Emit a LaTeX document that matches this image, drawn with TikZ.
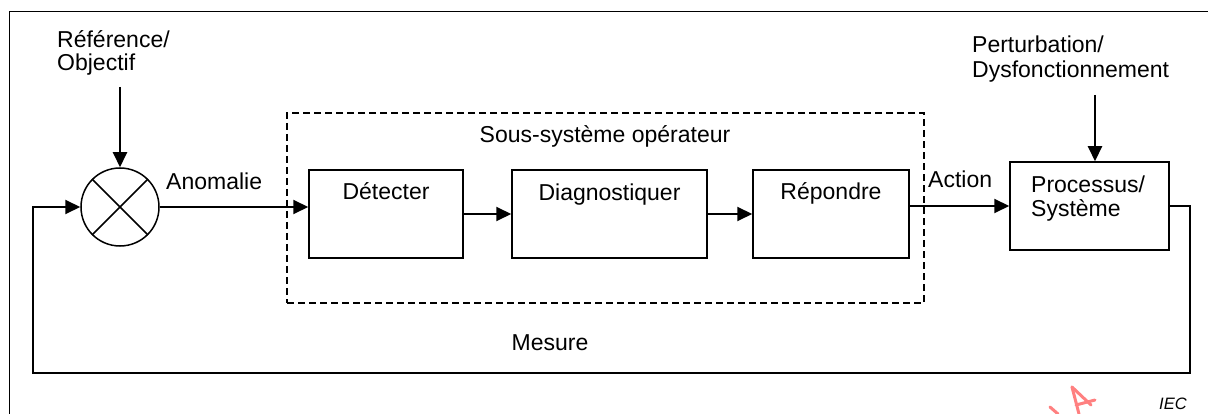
\documentclass[tikz,border=0pt]{standalone}
\usepackage{fontspec}
\setmainfont{Liberation Sans}
\usetikzlibrary{arrows.meta}

\tikzset{
  lbl/.style={font=\fontsize{23}{24}\selectfont, inner sep=0pt},
  blockbox/.style={draw, line width=1.5pt, minimum height=88pt, inner sep=0pt},
  link/.style={line width=2pt, -{Triangle[length=15pt,width=14pt]}},
  frameline/.style={line width=1.6pt},
  groupbox/.style={draw, line width=1.5pt, dash pattern=on 7pt off 4pt, inner sep=0pt},
  stamp/.style={draw={rgb,255:red,255;green,128;blue,128}, line width=3pt, line cap=round, line join=round}
}

\begin{document}
\begin{tikzpicture}[x=1pt, y=-1pt]
  \useasboundingbox (0,0) rectangle (1208,414);

  % outer frame
  \draw[frameline] (9.5,414) -- (9.5,11.5) -- (1208,11.5);

  % operator subsystem group
  \node[groupbox, minimum width=637pt, minimum height=190pt] (ops) at (605.5,208) {};
  \node[lbl, anchor=base] (opslbl) at (605,143) {Sous-système opérateur};

  % summing junction
  \node[draw, circle, line width=1.5pt, minimum size=78pt, inner sep=0pt] (sum) at (120,207) {};
  \draw[line width=1.5pt] (sum.north west) -- (sum.south east);
  \draw[line width=1.5pt] (sum.north east) -- (sum.south west);

  % blocks
  \node[blockbox, minimum width=154pt] (det) at (386,214) {};
  \node[blockbox, minimum width=195pt] (diag) at (609.5,214) {};
  \node[blockbox, minimum width=156pt] (rep) at (831,214) {};
  \node[blockbox, minimum width=159pt] (proc) at (1089.5,206) {};

  \node[lbl, anchor=base] (detlbl) at (386,200) {Détecter};
  \node[lbl, anchor=base] (diaglbl) at (609.5,201) {Diagnostiquer};
  \node[lbl, anchor=base] (replbl) at (831,200) {Répondre};
  \node[lbl, anchor=base west] (proclbla) at (1031,193) {Processus/};
  \node[lbl, anchor=base west] (proclblb) at (1031,217) {Système};

  % external inputs
  \node[lbl, anchor=base west] (refa) at (57,48) {Référence/};
  \node[lbl, anchor=base west] (refb) at (57,71) {Objectif};
  \node[lbl, anchor=base west] (perta) at (972,53) {Perturbation/};
  \node[lbl, anchor=base west] (pertb) at (972,78) {Dysfonctionnement};

  \coordinate (refin) at (120,87);
  \coordinate (pertin) at (1095,95);
  \draw[link] (refin) -- (sum.north);
  \draw[link] (pertin) -- (pertin |- proc.north);

  % signal path
  \node[lbl, anchor=base west] (anom) at (166,190) {Anomalie};
  \draw[link] (sum.east) -- (sum.east -| det.west);
  \draw[link] (det.east) -- (diag.west);
  \draw[link] (diag.east) -- (rep.west);
  \node[lbl, anchor=base west] (act) at (928,188) {Action};
  \draw[link] (rep.east |- proc.west) -- (proc.west);

  % feedback loop
  \coordinate (fbR) at (1190,373);
  \coordinate (fbL) at (33,373);
  \draw[link] (proc.east) -| (fbR) -- (fbL) |- (sum.west);
  \node[lbl, anchor=base] (mes) at (550,350) {Mesure};

  % source mark
  \node[font=\fontsize{16.5}{18}\selectfont\itshape, inner sep=0pt, anchor=base west] (iec) at (1159,409) {IEC};

  % stamp fragment
  \draw[stamp] (1050,407) -- (1058,414);
  \draw[stamp] (1072,387) -- (1079,414);
  \draw[stamp] (1072,387) -- (1091,405);
  \draw[stamp] (1076,405) -- (1095,400);
\end{tikzpicture}
\end{document}
